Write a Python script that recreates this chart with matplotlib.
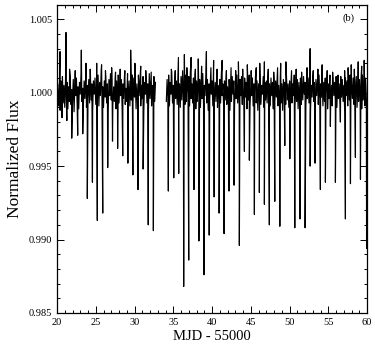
import numpy as np
import matplotlib
matplotlib.use('Agg')
import matplotlib.pyplot as plt
from matplotlib.ticker import MultipleLocator, FormatStrFormatter

plt.rcParams['font.family'] = ['Liberation Serif', 'DejaVu Serif']

# baseline scatter, units of 1e-4 in flux, sampled every 0.1 d
seg1_start, seg1_end = 20.0, 32.7
seg1_dev = [
    -4, 6, -9, 3, -12, 8, -2, 11, -7, 5, -10, 9, -3, 7, -11, 4, -6, 12, -8, 2,
    -5, 9, -13, 6, -2, 10, -8, 4, -11, 7, -1, 13, -6, 3, -9, 8, -4, 11, -10, 5,
    -3, 9, -7, 14, -5, 6, -12, 8, -1, 10, -8, 5, -4, 12, -9, 7, -2, 15, -6, 4,
    -10, 8, -3, 11, -7, 6, -12, 9, -2, 13, -5, 7, -9, 4, -6, 10, -11, 8, -3, 12,
    -7, 5, -2, 9, -10, 6, -4, 11, -8, 3, -6, 13, -1, 8, -9, 6, -5, 12, -7, 10,
    -3, 8, -11, 6, -6, 12, -2, 9, -9, 5, -4, 11, -12, 7, -1, 10, -7, 6, -10, 13,
    -4, 8, -9, 5, -2, 11, -6, 7,
]
seg2_start, seg2_end = 34.1, 60.0
seg2_dev = [
    -6, 9, -3, 12, -9, 7, -1, 14, -7, 5, -11, 10, -4, 8, -8, 13, -2, 6, -10, 11,
    -5, 15, -3, 9, -8, 12, -6, 7, -1, 11, -9, 14, -4, 6, -7, 10, -2, 13, -11, 8,
    -6, 12, -3, 9, -10, 7, -4, 13, -8, 5, -2, 11, -7, 9, -12, 6, -5, 10, -1, 8,
    -9, 11, -4, 7, -6, 12, -10, 5, -3, 9, -7, 13, -2, 6, -11, 8, -5, 10, -8, 4,
    -3, 9, -12, 7, -6, 11, -1, 8, -9, 5, -4, 12, -7, 6, -10, 9, -2, 11, -8, 5,
    -6, 10, -3, 7, -11, 9, -5, 12, -8, 4, -2, 10, -9, 6, -4, 11, -7, 8, -12, 6,
    -3, 9, -8, 5, -1, 11, -10, 7, -5, 8, -7, 12, -4, 6, -9, 10, -2, 7, -11, 9,
    -6, 8, -3, 11, -9, 5, -4, 10, -7, 6, -12, 9, -2, 7, -8, 11, -5, 6, -10, 8,
    -4, 10, -7, 6, -2, 12, -9, 5, -6, 9, -11, 7, -3, 10, -8, 6, -5, 11, -1, 7,
    -9, 6, -4, 10, -7, 8, -12, 5, -3, 11, -6, 7, -10, 9, -2, 8, -8, 12, -5, 6,
    -3, 9, -9, 7, -6, 10, -1, 8, -11, 6, -4, 12, -7, 5, -9, 10, -2, 7, -6, 11,
    -10, 8, -4, 6, -8, 11, -3, 9, -6, 5, -12, 10, -2, 8, -9, 7, -5, 12, -7, 6,
    -4, 10, -8, 7, -2, 11, -10, 6, -6, 9, -3, 8, -11, 12, -5, 7, -9, 10, -4, -6,
]

# eclipse minima
dip_t = [20.65, 21.27, 21.90, 22.67, 23.32, 23.91, 24.57, 25.20, 25.90, 26.54,
         27.16, 27.82, 28.48, 29.14, 29.79, 30.45, 31.11, 31.77, 32.43,
         34.36, 35.06, 35.70, 36.34, 36.99, 37.66, 38.30, 38.95, 39.63, 40.27,
         40.91, 41.55, 42.19, 42.84, 43.52, 44.17, 44.81, 45.46, 46.10, 46.75,
         47.39, 48.09, 48.74, 49.38, 50.03, 50.67, 51.35, 52.00, 52.65, 53.29,
         53.97, 54.62, 55.26, 55.91, 56.55, 57.20, 57.85, 58.49, 59.14, 59.93]
dip_f = [0.9983, 0.9981, 0.9969, 0.9971, 0.9972, 0.9928, 0.9939, 0.9913, 0.9918, 0.9949,
         0.9967, 0.9962, 0.9957, 0.9952, 0.9944, 0.9934, 0.9948, 0.9910, 0.9906,
         0.9933, 0.9942, 0.9945, 0.9868, 0.9886, 0.9934, 0.9899, 0.9876, 0.9903, 0.9929,
         0.9918, 0.9904, 0.9933, 0.9937, 0.9896, 0.9960, 0.9954, 0.9917, 0.9932, 0.9924,
         0.9910, 0.9926, 0.9909, 0.9964, 0.9955, 0.9908, 0.9914, 0.9908, 0.9950, 0.9952,
         0.9934, 0.9939, 0.9977, 0.9939, 0.9980, 0.9914, 0.9938, 0.9956, 0.9941, 0.9894]

# upward outliers
spike_t = [20.39, 21.16, 21.62, 22.35, 23.14, 23.74, 24.28, 25.12, 25.75, 26.25,
           27.05, 27.55, 28.15, 28.75, 29.50, 30.05, 30.80, 31.45, 32.15,
           34.75, 35.25, 35.66, 36.43, 36.75, 37.30, 37.85, 38.22, 38.65, 39.27,
           39.85, 40.20, 40.65, 41.30, 41.85, 42.45, 43.05, 43.40, 43.95, 44.55,
           45.05, 45.70, 46.15, 46.75, 47.25, 47.95, 48.45, 48.85, 49.52, 50.25,
           50.85, 51.55, 52.25, 52.65, 53.05, 53.65, 54.20, 54.85, 55.55, 56.25,
           57.10, 57.55, 57.95, 58.35, 58.85, 59.30, 59.62]
spike_f = [1.0028, 1.0041, 1.0016, 1.0015, 1.0029, 1.0020, 1.0016, 1.0020, 1.0019, 1.0015,
           1.0017, 1.0014, 1.0016, 1.0015, 1.0029, 1.0020, 1.0018, 1.0015, 1.0014,
           1.0016, 1.0015, 1.0024, 1.0026, 1.0017, 1.0024, 1.0016, 1.0023, 1.0018, 1.0028,
           1.0017, 1.0022, 1.0016, 1.0022, 1.0015, 1.0017, 1.0015, 1.0021, 1.0016, 1.0019,
           1.0015, 1.0017, 1.0020, 1.0021, 1.0016, 1.0014, 1.0017, 1.0020, 1.0021, 1.0015,
           1.0016, 1.0014, 1.0017, 1.0030, 1.0015, 1.0016, 1.0019, 1.0015, 1.0014, 1.0012,
           1.0015, 1.0017, 1.0019, 1.0016, 1.0021, 1.0018, 1.0022]

t1 = np.linspace(seg1_start, seg1_end, len(seg1_dev))
t2 = np.linspace(seg2_start, seg2_end, len(seg2_dev))
t = np.concatenate([t1, t2, dip_t, spike_t])
f = np.concatenate([1 + np.array(seg1_dev) * 1e-4, 1 + np.array(seg2_dev) * 1e-4, dip_f, spike_f])
order = np.argsort(t)
t, f = t[order], f[order]
# break the line across the data gap
gap = np.searchsorted(t, 33.4)
t = np.insert(t, gap, np.nan)
f = np.insert(f, gap, np.nan)

fig = plt.figure(figsize=(3.75, 3.52), dpi=100)
ax = fig.add_axes([0.152, 0.111, 0.827, 0.876])
ax.plot(t, f, color='k', lw=0.85)

ax.set_xlim(20, 60)
ax.set_ylim(0.985, 1.006)
ax.xaxis.set_major_locator(MultipleLocator(5))
ax.xaxis.set_minor_locator(MultipleLocator(1))
ax.yaxis.set_major_locator(MultipleLocator(0.005))
ax.yaxis.set_minor_locator(MultipleLocator(0.001))
ax.yaxis.set_major_formatter(FormatStrFormatter('%.3f'))
ax.tick_params(which='both', direction='in', top=True, right=True, labelsize=7.5, width=0.7)
ax.tick_params(which='major', length=5)
ax.tick_params(which='minor', length=2.5)
for s in ax.spines.values():
    s.set_linewidth(0.9)

ax.set_xlabel('MJD - 55000', fontsize=10.5, labelpad=2)
ax.set_ylabel('Normalized Flux', fontsize=12.5, labelpad=4)
ax.text(0.94, 0.955, '(b)', transform=ax.transAxes, fontsize=7.5, ha='center', va='center')

fig.savefig('out.png', dpi=100)
